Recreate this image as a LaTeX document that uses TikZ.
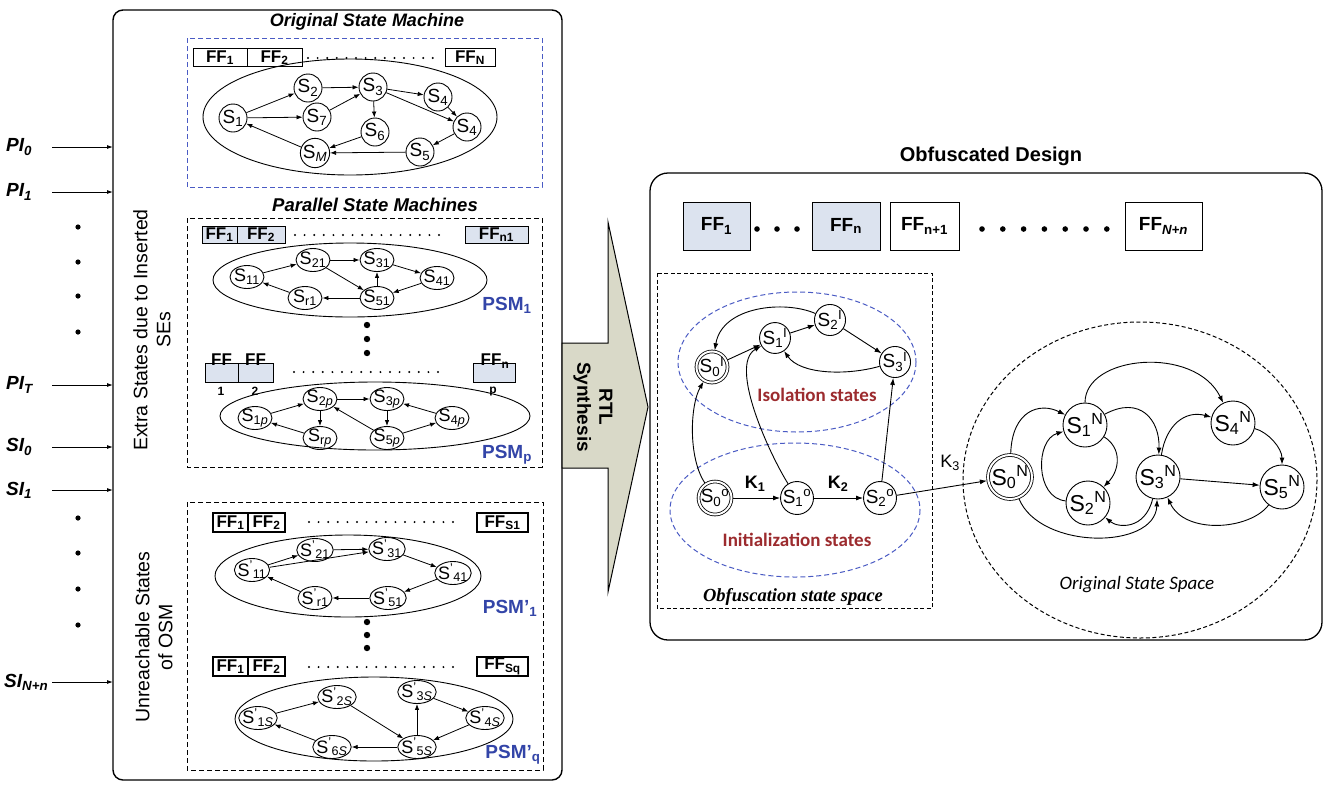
\documentclass[tikz,border=0pt]{standalone}
\usepackage{fontspec}
\setmainfont{Liberation Sans}
\newfontfamily\calib{Carlito}
\newfontfamily\tnr{Liberation Serif}
\usetikzlibrary{arrows.meta,shapes.geometric}
\definecolor{psmblue}{HTML}{3345A8}
\definecolor{dashblue}{HTML}{4A5BC4}
\definecolor{fffill}{HTML}{DCE3EF}
\definecolor{darkred}{HTML}{9C2B2E}
\definecolor{rtlfill}{HTML}{D9D9C8}
% state names: subscript only, subscript then superscript, primed
\newcommand\Ssub[1]{S\textsubscript{#1}}
\newcommand\Ssup[2]{S\textsubscript{#1}\textsuperscript{#2}}
\newcommand\Spr[1]{S\textsuperscript{'}\textsubscript{#1}}
\newcommand\FFs[1]{FF\textsubscript{#1}}
\begin{document}
\begin{tikzpicture}[x=1pt,y=-1pt,
  edge/.style={-{Latex[length=6pt,width=4.5pt]},line width=0.8pt},
  bigedge/.style={-{Latex[length=7pt,width=5pt]},line width=0.9pt},
  osm/.style={circle,draw,line width=0.9pt,minimum size=28pt,inner sep=0pt,font=\fontsize{19}{19}\selectfont},
  psm/.style={ellipse,draw,line width=0.9pt,minimum width=34pt,minimum height=23pt,inner xsep=-2pt,inner ysep=-1pt,font=\fontsize{18}{18}\selectfont},
  ffsmall/.style={draw,line width=0.9pt,inner sep=0pt,font=\bfseries\fontsize{17}{17}\selectfont},
  ffbig/.style={draw,line width=0.9pt,inner sep=0pt,minimum height=48pt,font=\bfseries\fontsize{19}{19}\selectfont},
  obst/.style={circle,draw,line width=0.9pt,minimum size=30pt,inner sep=0pt,font=\fontsize{19}{19}\selectfont},
  nst/.style={circle,draw,line width=0.9pt,minimum size=44pt,inner sep=0pt,font=\fontsize{23}{23}\selectfont},
  dbl/.style={double,double distance=2pt,line width=0.8pt,outer sep=1.4pt},
  dotrow/.style={line width=2.2pt,line cap=round,dash pattern=on 0pt off 9.6pt},
  inlab/.style={font=\bfseries\itshape\fontsize{19}{19}\selectfont,anchor=west,inner sep=0pt},
  inarrow/.style={-{Latex[length=6pt,width=4pt]},line width=0.9pt},
  sectitle/.style={font=\bfseries\itshape\fontsize{18}{18}\selectfont},
  psmlab/.style={font=\bfseries\fontsize{19}{19}\selectfont,text=psmblue},
  sidelab/.style={rotate=90,align=center,font=\fontsize{19.5}{23}\selectfont},
  klab/.style={font=\bfseries\fontsize{18}{18}\selectfont},
  redlab/.style={font=\calib\bfseries\fontsize{19}{19}\selectfont,text=darkred},
  tiny/.style={font=\bfseries\fontsize{12}{12}\selectfont,inner sep=0pt},
]
\fill[white] (0,0) rectangle (1324,785);
\useasboundingbox (0,0) rectangle (1324,785);

%================ left panel =================
\draw[line width=1.4pt,rounded corners=10pt] (113,10) rectangle (562,780);

% primary and scan inputs
\foreach \n/\y/\t in {pi0/147/PI\textsubscript{0},pi1/192/PI\textsubscript{1},piT/385/PI\textsubscript{T},si0/447/SI\textsubscript{0},si1/490/SI\textsubscript{1}}{
  \node[inlab] (\n) at (6,\y) {\t};
  \coordinate (\n s) at (52,\y);
  \coordinate (\n e) at (113,\y);
  \draw[inarrow] (\n s) -- (\n e);
}
\node[inlab] (siN) at (4,682) {SI\textsubscript{N+n}};
\coordinate (siNs) at (52,682);
\coordinate (siNe) at (113,682);
\draw[inarrow] (siNs) -- (siNe);
\foreach \y in {227,262,296,332,518,553,589,625} \fill (78,\y) circle (2.6pt);

\node[sidelab] (extra) at (152,330) {Extra States due to Inserted\\SEs};
\node[sidelab] (unreach) at (154,637) {Unreachable States\\of OSM};

% ---- original state machine
\node[sectitle] (osmt) at (367,22) {Original State Machine};
\draw[dashblue,dashed,line width=1pt,dash pattern=on 5pt off 3pt] (187,38) rectangle (542,187);
\node[ffsmall,minimum width=54pt,minimum height=18pt] (of1) at (220,57.5) {\FFs{1}};
\node[ffsmall,minimum width=55pt,minimum height=18pt] (of2) at (274.5,57.5) {\FFs{2}};
\node[ffsmall,minimum width=50pt,minimum height=18pt] (ofn) at (470,57.5) {\FFs{N}};
\draw[dotrow] (308,58) -- (436,58);
\draw[line width=0.9pt] (350,117) ellipse [x radius=147, y radius=58];
\node[osm] (s1) at (233,118) {\Ssub{1}};
\node[osm] (s2) at (308,88) {\Ssub{2}};
\node[osm] (s3) at (373,87) {\Ssub{3}};
\node[osm] (s4a) at (438,97) {\Ssub{4}};
\node[osm] (s7) at (317,117) {\Ssub{7}};
\node[osm] (s6) at (375,132) {\Ssub{6}};
\node[osm] (s4b) at (467,127) {\Ssub{4}};
\node[osm] (s5) at (420,152) {\Ssub{5}};
\node[osm] (sm) at (315,153) {\Ssub{\textit{M}}};
\foreach \a/\b in {s1/s2,s1/s7,s7/s3,s2/s3,s3/s4a,s3/s6,s3/s4b,s4a/s4b,s4b/s5,s5/sm,s6/sm,sm/s1}
  \draw[edge] (\a) -- (\b);

% ---- parallel state machines
\node[sectitle,font=\bfseries\itshape\fontsize{18.5}{18.5}\selectfont] (psmt) at (375,205) {Parallel State Machines};
\draw[dashed,line width=1pt,dash pattern=on 5pt off 3pt] (187,218) rectangle (542,467);
\node[ffsmall,fill=fffill,minimum width=35pt,minimum height=17pt] (pa1) at (219.5,234.5) {\FFs{1}};
\node[ffsmall,fill=fffill,minimum width=48pt,minimum height=17pt] (pa2) at (261,234.5) {\FFs{2}};
\node[ffsmall,fill=fffill,minimum width=63pt,minimum height=17pt] (pan) at (496.5,234.5) {\FFs{n1}};
\draw[dotrow] (295,235) -- (448,235);
\draw[line width=0.9pt] (350,280) ellipse [x radius=137, y radius=37];
\node[psm] (p11) at (247,277) {\Ssub{11}};
\node[psm] (p21) at (313,260) {\Ssub{21}};
\node[psm] (p31) at (377,260) {\Ssub{31}};
\node[psm] (p41) at (437,278) {\Ssub{41}};
\node[psm] (pr1) at (305,298) {\Ssub{r1}};
\node[psm] (p51) at (377,298) {\Ssub{51}};
\foreach \a/\b in {p11/p21,p21/p31,p21/p51,p51/p31,p31/p41,p41/p51,p51/pr1,pr1/p11}
  \draw[edge] (\a) -- (\b);
\node[psmlab] (psm1) at (507,305) {PSM\textsubscript{1}};
\foreach \y in {325,339,353} \fill (367,\y) circle (3.2pt);

\node[ffsmall,fill=fffill,minimum width=33pt,minimum height=19pt] (pb1) at (221.5,372.5) {};
\node[ffsmall,fill=fffill,minimum width=35pt,minimum height=19pt] (pb2) at (255.5,372.5) {};
\node[ffsmall,fill=fffill,minimum width=42pt,minimum height=19pt] (pbn) at (494,372.5) {};
\node[ffsmall,draw=none,font=\bfseries\fontsize{17}{17}\selectfont] (pb1t) at (221.5,360) {FF};
\node[ffsmall,draw=none,font=\bfseries\fontsize{17}{17}\selectfont] (pb2t) at (255.5,360) {FF};
\node[ffsmall,draw=none,font=\bfseries\fontsize{17}{17}\selectfont] (pbnt) at (495,361) {\FFs{n}};
\node[tiny] (pb1s) at (221,391) {1};
\node[tiny] (pb2s) at (255,391) {2};
\node[tiny] (pbns) at (493,391) {p};
\draw[dotrow] (294,372) -- (443,372);
\draw[line width=0.9pt] (375,416) ellipse [x radius=155, y radius=34];
\node[psm] (q1) at (255,418) {\Ssub{1\textit{p}}};
\node[psm] (q2) at (320,399) {\Ssub{2\textit{p}}};
\node[psm] (q3) at (387,399) {\Ssub{3\textit{p}}};
\node[psm] (q4) at (452,418) {\Ssub{4\textit{p}}};
\node[psm] (qr) at (320,438) {\Ssub{r\textit{p}}};
\node[psm] (q5) at (387,438) {\Ssub{5\textit{p}}};
\foreach \a/\b in {q1/q2,q2/q3,q2/qr,q3/q5,q5/q2,q5/q4,q4/q3,qr/q1}
  \draw[edge] (\a) -- (\b);
\node[psmlab] (psmp) at (507,455) {PSM\textsubscript{p}};

% ---- unreachable states
\draw[dashed,line width=1pt,dash pattern=on 5pt off 3pt] (187,502) rectangle (543,770);
\node[ffsmall,minimum width=35pt,minimum height=19pt,line width=1.2pt] (ua1) at (230.5,522.5) {\FFs{1}};
\node[ffsmall,minimum width=37pt,minimum height=19pt,line width=1.2pt] (ua2) at (266.5,522.5) {\FFs{2}};
\node[ffsmall,minimum width=51pt,minimum height=19pt,line width=1.2pt] (uan) at (502.5,522.5) {\FFs{S1}};
\draw[dotrow] (309,522) -- (458,522);
\draw[line width=0.9pt] (348,576) ellipse [x radius=133, y radius=41];
\node[psm] (u11) at (252,570) {\Spr{11}};
\node[psm] (u21) at (315,550) {\Spr{21}};
\node[psm] (u31) at (387,549) {\Spr{31}};
\node[psm] (u41) at (453,573) {\Spr{41}};
\node[psm] (ur1) at (315,598) {\Spr{r1}};
\node[psm] (u51) at (388,598) {\Spr{51}};
\foreach \a/\b in {u11/u21,u21/u31,u11/u31,u31/u41,u41/u51,u51/ur1,ur1/u11}
  \draw[edge] (\a) -- (\b);
\node[psmlab] (psmq1) at (510,608) {PSM'\textsubscript{1}};
\foreach \y in {622,635,648} \fill (367,\y) circle (3.2pt);

\node[ffsmall,minimum width=35pt,minimum height=19pt,line width=1.2pt] (ub1) at (230.5,666.5) {\FFs{1}};
\node[ffsmall,minimum width=37pt,minimum height=19pt,line width=1.2pt] (ub2) at (266.5,666.5) {\FFs{2}};
\node[ffsmall,minimum width=51pt,minimum height=19pt,line width=1.2pt] (ubn) at (502.5,666.5) {\FFs{Sq}};
\draw[dotrow] (309,667) -- (458,667);
\draw[line width=0.9pt] (374,719) ellipse [x radius=139, y radius=42];
\node[psm] (v1) at (258,718) {\Spr{1\textit{S}}};
\node[psm] (v2) at (337,697) {\Spr{2\textit{S}}};
\node[psm] (v3) at (417,692) {\Spr{3\textit{S}}};
\node[psm] (v4) at (485,718) {\Spr{4\textit{S}}};
\node[psm] (v6) at (332,747) {\Spr{6\textit{S}}};
\node[psm] (v5) at (417,747) {\Spr{5\textit{S}}};
\foreach \a/\b in {v1/v2,v2/v5,v5/v3,v3/v4,v4/v5,v5/v6,v6/v1}
  \draw[edge] (\a) -- (\b);
\node[psmlab] (psmqq) at (513,755) {PSM'\textsubscript{q}};

%================ synthesis arrow =================
\draw[line width=1pt,fill=rtlfill,line join=miter]
  (562,343) -- (608,343) -- (608,222) -- (648,407) -- (608,592) -- (608,468) -- (562,468) -- cycle;
\node[rotate=-90,align=center,font=\bfseries\fontsize{19}{22}\selectfont] (rtl) at (593,407) {RTL\\Synthesis};

%================ right panel =================
\node[font=\bfseries\fontsize{20}{20}\selectfont] (odt) at (991,156) {Obfuscated Design};
\draw[line width=1.3pt,rounded corners=18pt] (650,173) rectangle (1322,640);
\node[ffbig,fill=fffill,minimum width=67pt] (r1) at (716.5,226) {\FFs{1}};
\node[ffbig,fill=fffill,minimum width=68pt] (rn) at (846,226) {\FFs{n}};
\node[ffbig,minimum width=69pt] (rn1) at (924.5,226) {\FFs{n+1}};
\node[ffbig,minimum width=77pt] (rN) at (1163.5,226) {FF\textsubscript{\textit{N+n}}};
\foreach \x in {757,777,797} \fill (\x,229) circle (2.8pt);
\foreach \k in {0,...,6} \fill (982+20.8*\k,229) circle (2.8pt);

% obfuscation state space
\draw[dashed,line width=1pt,dash pattern=on 4pt off 2.5pt] (657,273) rectangle (932,608);
\draw[dashblue,line width=1pt,dash pattern=on 5pt off 3pt] (797,362) ellipse [x radius=119, y radius=70];
\draw[dashblue,line width=1pt,dash pattern=on 5pt off 3pt] (795,510) ellipse [x radius=125, y radius=67];
\node[obst,dbl] (i0) at (712,367) {\Ssup{0}{I}};
\node[obst] (i1) at (775,338) {\Ssup{1}{I}};
\node[obst] (i2) at (830,320) {\Ssup{2}{I}};
\node[obst] (i3) at (895,362) {\Ssup{3}{I}};
\node[obst,dbl] (o0) at (715,498) {\Ssup{0}{o}};
\node[obst] (o1) at (797,498) {\Ssup{1}{o}};
\node[obst] (o2) at (880,498) {\Ssup{2}{o}};
\node[redlab] (isol) at (817,395) {Isolation states};
\node[redlab] (init) at (797,540) {Initialization states};
\node[font=\tnr\bfseries\itshape\fontsize{18.5}{18.5}\selectfont] (oss) at (793,597) {Obfuscation state space};
\draw[bigedge] (i0) -- (i1);
\draw[bigedge] (i1) -- (i2);
\draw[bigedge] (i2) -- (i3);
\draw[bigedge] (i2) .. controls (785,300) and (722,306) .. (i0);
\draw[bigedge] (i3) .. controls (845,376) and (800,374) .. (i1);
\draw[bigedge] (o0) .. controls (688,458) and (690,405) .. (i0);
\draw[bigedge] (o1) .. controls (770,455) and (728,365) .. (i1);
\draw[bigedge] (o2) -- (i3);
\draw[bigedge] (o0) -- (o1);
\draw[bigedge] (o1) -- (o2);
\node[klab] (k1) at (755,484) {K\textsubscript{1}};
\node[klab] (k2) at (838,484) {K\textsubscript{2}};

% original state space
\draw[dashed,line width=1pt,dash pattern=on 4pt off 2.5pt] (1140,480) ellipse [x radius=177, y radius=158];
\node[nst,dbl] (n0) at (1010,477) {\Ssup{0}{N}};
\node[nst] (n1) at (1085,425) {\Ssup{1}{N}};
\node[nst] (n2) at (1088,503) {\Ssup{2}{N}};
\node[nst] (n3) at (1158,477) {\Ssup{3}{N}};
\node[nst] (n4) at (1233,423) {\Ssup{4}{N}};
\node[nst] (n5) at (1282,487) {\Ssup{5}{N}};
\node[font=\calib\itshape\fontsize{19}{19}\selectfont] (orig) at (1137,585) {Original State Space};
\draw[bigedge] (o2) -- (n0);
\node[font=\fontsize{18}{18}\selectfont] (k3) at (950,463) {K\textsubscript{3}};
\draw[bigedge] (n0) .. controls (1012,410) and (1040,402) .. (n1);
\draw[bigedge] (n1) .. controls (1085,355) and (1195,345) .. (n4);
\draw[bigedge] (n1) .. controls (1140,395) and (1160,420) .. (n3);
\draw[bigedge] (n1) .. controls (1122,448) and (1120,470) .. (n2);
\draw[bigedge] (n2) .. controls (1035,498) and (1035,440) .. (n1);
\draw[bigedge] (n3) .. controls (1145,530) and (1118,528) .. (n2);
\draw[bigedge] (n0) .. controls (1040,550) and (1155,550) .. (n3);
\draw[bigedge] (n3) .. controls (1166,425) and (1185,410) .. (n4);
\draw[bigedge] (n3) -- (n5);
\draw[bigedge] (n4) .. controls (1268,432) and (1282,448) .. (n5);
\draw[bigedge] (n5) .. controls (1250,530) and (1185,535) .. (n3);
\end{tikzpicture}
\end{document}
